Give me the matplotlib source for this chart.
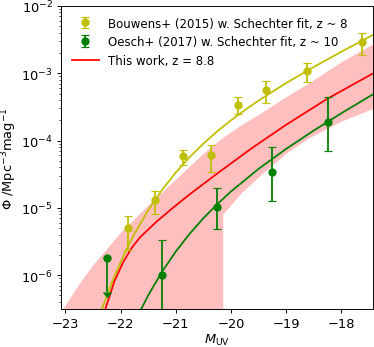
import numpy as np
import matplotlib
matplotlib.use('Agg')
import matplotlib.pyplot as plt

# -------------------------------------------------------
# Data

# Bouwens+ (2015), z ~ 8 stepwise points
bouwens_M = [-21.87, -21.37, -20.87, -20.37, -19.87, -19.37, -18.62, -17.62]
bouwens_phi = [5.0e-6, 1.3e-5, 5.8e-5, 6.0e-5, 3.41e-4, 5.7e-4, 1.09e-3, 2.9e-3]
bouwens_err = [2.6e-6, 5.0e-6, 1.5e-5, 2.6e-5, 9.6e-5, 2.05e-4, 3.5e-4, 1.0e-3]

# Bouwens+ (2015) Schechter curve
bouwens_fit_M = [-22.4, -22.25, -22.125, -22.0, -21.87, -21.75, -21.5, -21.25, -21.0,
                 -20.75, -20.5, -20.25, -20.0, -19.75, -19.5, -19.0, -18.5, -18.0, -17.4]
bouwens_fit_phi = [2.22e-7, 4.95e-7, 9.03e-7, 1.56e-6, 2.63e-6, 4.09e-6, 9.2e-6, 1.84e-5, 3.35e-5,
                   5.66e-5, 9.0e-5, 1.37e-4, 2.0e-4, 2.83e-4, 3.93e-4, 7.16e-4, 1.24e-3, 2.09e-3, 3.82e-3]

# Oesch+ (2017), z ~ 10 stepwise points (first one is an upper limit)
oesch_M = [-21.25, -20.25, -19.25, -18.25]
oesch_phi = [1.0e-6, 1.02e-5, 3.45e-5, 1.9e-4]
oesch_err_lo = [0.9e-6, 5.4e-6, 2.2e-5, 1.19e-4]
oesch_err_hi = [2.3e-6, 9.3e-6, 4.45e-5, 2.57e-4]
oesch_lim_M = [-22.25]
oesch_lim_phi = [1.78e-6]
oesch_lim_len = [1.22e-6]

# Oesch+ (2017) Schechter curve
oesch_fit_M = [-21.7, -21.5, -21.25, -21.0, -20.75, -20.5, -20.25, -20.0, -19.5,
               -19.0, -18.5, -18.0, -17.4]
oesch_fit_phi = [2.38e-7, 5.0e-7, 1.12e-6, 2.24e-6, 4.11e-6, 7.02e-6, 1.13e-5, 1.75e-5, 3.8e-5,
                 7.53e-5, 1.41e-4, 2.55e-4, 5.02e-4]

# This work, z = 8.8
work_M = [-22.40, -22.266, -22.11, -21.953, -21.80, -21.65, -21.348, -21.047, -20.745,
          -20.232, -19.627, -19.024, -18.268, -17.40]
work_phi = [1.32e-7, 3.33e-7, 8.17e-7, 1.556e-6, 2.535e-6, 3.63e-6, 6.24e-6, 1.009e-5, 1.596e-5,
            3.32e-5, 7.66e-5, 1.667e-4, 4.12e-4, 1.023e-3]

# uncertainty band of this work
band_M = [-23.1, -22.75, -22.5, -22.25, -22.0, -21.5, -21.0, -20.5, -20.14, -20.14,
          -19.8, -19.46, -19.0, -18.59, -18.0, -17.4]
band_hi = [2.6e-7, 7.2e-7, 1.38e-6, 2.4e-6, 4.2e-6, 1.07e-5, 2.6e-5, 6.3e-5, 1.1e-4, 1.1e-4,
           1.7e-4, 2.5e-4, 4.4e-4, 7.0e-4, 1.45e-3, 2.75e-3]
band_lo = [1e-9, 1e-9, 1e-9, 1e-9, 1e-9, 1e-9, 1e-9, 1e-9, 1e-9, 7.9e-6,
           1.66e-5, 3.0e-5, 6.3e-5, 1.07e-4, 1.9e-4, 3.0e-4]

# -------------------------------------------------------

fig, ax = plt.subplots(figsize=(4.4, 4.094), dpi=85)
fig.subplots_adjust(left=0.163, right=0.997, top=0.98, bottom=0.109)

ax.fill_between(band_M, band_lo, band_hi, color='red', alpha=0.25, linewidth=0)

ax.plot(bouwens_fit_M, bouwens_fit_phi, color='y', linewidth=1.5)
ax.plot(oesch_fit_M, oesch_fit_phi, color='g', linewidth=1.5)
ax.plot(work_M, work_phi, color='red', linewidth=1.5, label='This work, z = 8.8')

ax.errorbar(bouwens_M, bouwens_phi, yerr=bouwens_err, fmt='o', color='y',
            markersize=6, capsize=3, elinewidth=1.5,
            label='Bouwens+ (2015) w. Schechter fit, z ~ 8')
ax.errorbar(oesch_M, oesch_phi, yerr=[oesch_err_lo, oesch_err_hi], fmt='o', color='g',
            markersize=6, capsize=3, elinewidth=1.5,
            label='Oesch+ (2017) w. Schechter fit, z ~ 10')
ax.errorbar(oesch_lim_M, oesch_lim_phi, yerr=oesch_lim_len, uplims=True, fmt='o', color='g',
            markersize=6, capsize=3, elinewidth=1.5)

ax.set_yscale('log')
ax.set_xlim(-23.08, -17.43)
ax.set_ylim(3.13e-7, 1e-2)
ax.tick_params(labelsize=11)
ax.set_xlabel(r'$M_{\rm UV}$', fontsize=11, labelpad=1)
ax.set_ylabel(r'$\Phi$ /Mpc$^{-3}$mag$^{-1}$', fontsize=11, labelpad=2)

handles, labels = ax.get_legend_handles_labels()
order = [1, 2, 0]
ax.legend([handles[i] for i in order], [labels[i] for i in order],
          loc='upper left', frameon=False, handlelength=2.3, fontsize=10)

plt.savefig('out.png', dpi=85)
